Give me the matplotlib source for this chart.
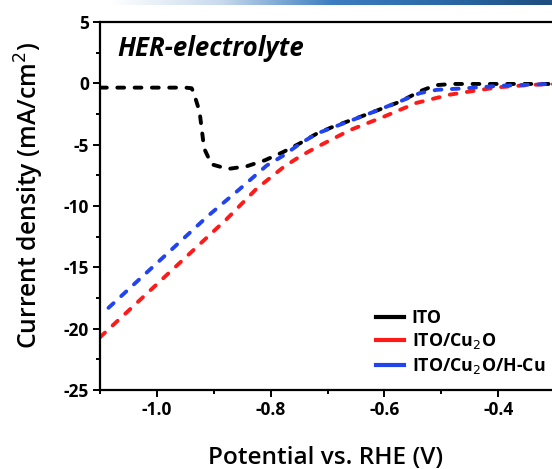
import numpy as np
import matplotlib
matplotlib.use('Agg')
import matplotlib.pyplot as plt
from matplotlib.ticker import MultipleLocator

plt.rcParams['font.family'] = ['Open Sans', 'DejaVu Sans']

# potential (V vs RHE) and current density (mA/cm2)
ito_v = [-1.10, -1.00, -0.95, -0.939, -0.936, -0.925, -0.921, -0.917, -0.904, -0.875,
         -0.842, -0.81, -0.778, -0.749, -0.719, -0.691, -0.632, -0.573, -0.535, -0.51,
         -0.48, -0.40, -0.30, -0.20]
ito_j = [-0.35, -0.35, -0.35, -0.40, -0.67, -2.3, -3.8, -5.3, -6.6, -6.98,
         -6.76, -6.27, -5.6, -4.9, -4.1, -3.55, -2.55, -1.5, -0.6, -0.15,
         -0.05, -0.05, -0.05, -0.05]

cu2o_v = [-1.10, -0.877, -0.825, -0.778, -0.749, -0.719, -0.66, -0.60, -0.544,
          -0.486, -0.438, -0.397, -0.34, -0.31, -0.20]
cu2o_j = [-20.7, -11.05, -8.6, -6.85, -5.97, -5.2, -3.8, -2.7, -1.6,
          -0.93, -0.58, -0.31, -0.12, -0.07, -0.03]

hcu_v = [-1.085, -0.91, -0.854, -0.807, -0.778, -0.749, -0.719, -0.691, -0.632, -0.573,
         -0.538, -0.508, -0.456, -0.397, -0.309, -0.20]
hcu_j = [-18.3, -10.8, -8.6, -6.7, -5.9, -4.94, -4.1, -3.6, -2.56, -1.48,
         -0.8, -0.53, -0.4, -0.2, -0.05, -0.02]

labels = ['ITO', 'ITO/Cu$_2$O', 'ITO/Cu$_2$O/H-Cu']
colors = ['black', '#ff1a1a', '#2244ee']

fig = plt.figure(figsize=(5.52, 4.69), dpi=100)

# slide header strip
bar = fig.add_axes([0, 1 - 5 / 469, 1, 5 / 469])
grad = np.linspace(0, 1, 256)
cmap = matplotlib.colors.LinearSegmentedColormap.from_list(
    'hdr', ['#ffffff', '#ffffff', '#c8daed', '#3d7ec0', '#2a6aa8', '#1e4d7e'])
bar.imshow(grad[None, :], aspect='auto', cmap=cmap)
bar.axis('off')

ax = fig.add_axes([100 / 552, 79 / 469, 512 / 552, 368 / 469])

for v, j, c, lab in zip([ito_v, cu2o_v, hcu_v], [ito_j, cu2o_j, hcu_j], colors, labels):
    ax.plot(v, j, color=c, lw=2.8, ls=(0, (1.75, 2.7)), dash_capstyle='round',
            solid_joinstyle='round', label=lab)

ax.set_xlim(-1.1, -0.2)
ax.set_ylim(-25, 5)
ax.xaxis.set_minor_locator(MultipleLocator(0.1))
ax.yaxis.set_minor_locator(MultipleLocator(2.5))
ax.set_xticks([-1.0, -0.8, -0.6, -0.4])
ax.set_xticklabels(['-1.0', '-0.8', '-0.6', '-0.4'])
ax.set_yticks([5, 0, -5, -10, -15, -20, -25])
ax.set_yticklabels(['5', '0', '-5', '-10', '-15', '-20', '-25'])

for s in ax.spines.values():
    s.set_linewidth(1.6)
ax.spines['right'].set_visible(False)
ax.tick_params(which='both', direction='out', width=1.4, top=False, right=False)
ax.tick_params(which='major', length=5, labelsize=12.5, pad=3)
ax.tick_params(which='minor', length=3)
for t in ax.get_xticklabels() + ax.get_yticklabels():
    t.set_fontweight('bold')

ax.set_xlabel('Potential vs. RHE (V)', fontsize=17.6, fontweight='semibold')
ax.set_ylabel('Current density (mA/cm$^2$)', fontsize=17.8, fontweight='semibold')
ax.xaxis.set_label_coords(0.441, -0.152)
ax.yaxis.set_label_coords(-0.105, 0.528)

ax.text(-1.07, 2.83, 'HER-electrolyte', fontsize=18.5, fontweight='bold', style='italic',
        va='center', ha='left')

leg = ax.legend(loc='upper left', bbox_to_anchor=((376 - 100) / 512, (390 - 309) / 368),
                frameon=False, fontsize=12.8, handlelength=1.6, handletextpad=0.4,
                labelspacing=0.25, borderaxespad=0, borderpad=0)
for h in leg.get_lines():
    h.set_linestyle('-')
    h.set_linewidth(3)
for t in leg.get_texts():
    t.set_fontweight('bold')

fig.savefig('out.png', dpi=100)
